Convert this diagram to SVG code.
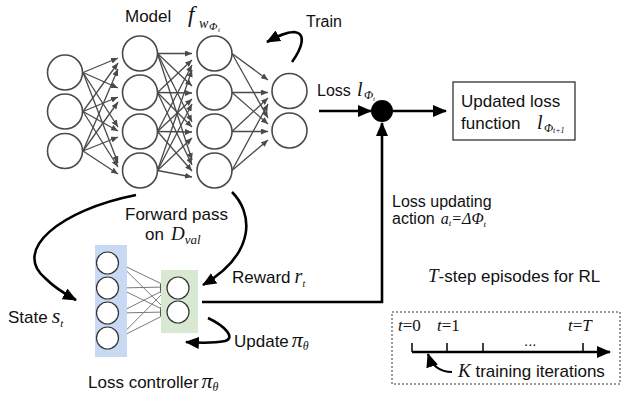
<svg xmlns="http://www.w3.org/2000/svg" width="621" height="396" viewBox="0 0 621 396">
<style>
.t{font-family:"Liberation Sans",Arial,sans-serif;font-size:17px;fill:#111}
.m{font-family:"Liberation Serif","Times New Roman",serif;font-style:italic;fill:#111}
.n{fill:#fff;stroke:#4a4a4a;stroke-width:1.6}
.cn{fill:#fff;stroke:#333;stroke-width:1.2}
.e{stroke:#4a4a4a;stroke-width:1.3;fill:none;marker-end:url(#ah)}
.ce{stroke:#7a7a7a;stroke-width:1;fill:none;marker-end:url(#ahc)}
.k{stroke:#000;stroke-width:2.6;fill:none;marker-end:url(#ak)}
</style>
<defs>
<marker id="ah" markerUnits="userSpaceOnUse" markerWidth="7" markerHeight="6" refX="7" refY="3" orient="auto"><path d="M0,0 L7,3 L0,6 z" fill="#4a4a4a"/></marker>
<marker id="ahc" markerUnits="userSpaceOnUse" markerWidth="6" markerHeight="6" refX="6" refY="3" orient="auto"><path d="M0,0 L6,3 L0,6 z" fill="#555"/></marker>
<marker id="ak" markerUnits="userSpaceOnUse" markerWidth="14" markerHeight="12" refX="13" refY="6" orient="auto"><path d="M0,0 L14,6 L0,12 z" fill="#000"/></marker>
</defs>

<g id="connectors">
<path class="e" d="M83 72.5 L118 58"/><path class="e" d="M83 72.5 L118 88"/><path class="e" d="M83 72.5 L118 127"/><path class="e" d="M83 72.5 L118 163"/>
<path class="e" d="M83 111.5 L118 63"/><path class="e" d="M83 111.5 L118 97"/><path class="e" d="M83 111.5 L118 131"/><path class="e" d="M83 111.5 L118 167"/>
<path class="e" d="M83 151 L118 69"/><path class="e" d="M83 151 L118 102"/><path class="e" d="M83 151 L118 137"/><path class="e" d="M83 151 L118 174"/>
<path class="e" d="M157.5 53.5 L192 53.5"/><path class="e" d="M157.5 53.5 L192 86"/><path class="e" d="M157.5 53.5 L192 122"/><path class="e" d="M157.5 53.5 L192 160"/>
<path class="e" d="M157.5 92.5 L192 60"/><path class="e" d="M157.5 92.5 L192 93"/><path class="e" d="M157.5 92.5 L192 127"/><path class="e" d="M157.5 92.5 L192 165"/>
<path class="e" d="M157.5 131.5 L192 65"/><path class="e" d="M157.5 131.5 L192 99"/><path class="e" d="M157.5 131.5 L192 132"/><path class="e" d="M157.5 131.5 L192 171"/>
<path class="e" d="M157.5 170.5 L192 70"/><path class="e" d="M157.5 170.5 L192 104"/><path class="e" d="M157.5 170.5 L192 138"/><path class="e" d="M157.5 170.5 L192 177"/>
<path class="e" d="M232 53.5 L268 80"/><path class="e" d="M232 53.5 L268 118"/>
<path class="e" d="M232 92.5 L268 92.5"/><path class="e" d="M232 92.5 L268 124"/>
<path class="e" d="M232 131.5 L268 98"/><path class="e" d="M232 131.5 L268 131.5"/>
<path class="e" d="M232 170.5 L268 104"/><path class="e" d="M232 170.5 L268 140"/>
<path class="ce" d="M118.5 263 L166 286"/><path class="ce" d="M118.5 263 L166 310"/>
<path class="ce" d="M118.5 288 L166 287"/><path class="ce" d="M118.5 288 L166 311"/>
<path class="ce" d="M118.5 313 L166 289"/><path class="ce" d="M118.5 313 L166 312"/>
<path class="ce" d="M118.5 338 L166 290"/><path class="ce" d="M118.5 338 L166 314"/>
<path class="k" d="M292 62 C302 48, 307 33, 294 32 C286 32, 278 36, 267 42"/>
<path class="k" d="M319 111 L371 111"/>
<path class="k" d="M393 111 L446 111"/>
<path class="k" d="M202 302 L382 302 L382 123"/>
<path class="k" d="M136 195 C60 210, 12 250, 45 278 C53 286, 63 293, 76 300"/>
<path class="k" d="M232 192 C252 212, 258 252, 203 285"/>
<path class="k" d="M208 318 C225 326, 236 338, 225 341 C215 343, 200 343, 186 342"/>
<path class="k" d="M412 352 L610 352"/>
<path class="k" d="M452 372 C440 372, 432 366, 428 354" style="stroke-width:2.2"/>
<g stroke="#000" stroke-width="1.5"><path d="M412 343 V352"/><path d="M447 343 V352"/><path d="M483 343 V352"/><path d="M583 343 V352"/></g>
</g>

<g id="model">
<circle class="n" cx="65" cy="72.5" r="17.5"/><circle class="n" cx="65" cy="111.5" r="17.5"/><circle class="n" cx="65" cy="151" r="17.5"/>
<circle class="n" cx="140" cy="53.5" r="17.5"/><circle class="n" cx="140" cy="92.5" r="17.5"/><circle class="n" cx="140" cy="131.5" r="17.5"/><circle class="n" cx="140" cy="170.5" r="17.5"/>
<circle class="n" cx="214.5" cy="53.5" r="17.5"/><circle class="n" cx="214.5" cy="92.5" r="17.5"/><circle class="n" cx="214.5" cy="131.5" r="17.5"/><circle class="n" cx="214.5" cy="170.5" r="17.5"/>
<circle class="n" cx="289.5" cy="91" r="17.5"/><circle class="n" cx="289.5" cy="130.5" r="17.5"/>
<text class="t" x="125" y="22">Model</text>
<text class="m" x="188" y="22" font-size="23">f</text>
<text class="m" x="199" y="28" font-size="14">w</text>
<text class="m" x="209" y="30" font-size="11">Φ</text>
<text class="m" x="218" y="32" font-size="7">t</text>
</g>

<g id="train"><text class="t" x="306" y="27" style="font-size:16px">Train</text></g>

<g id="loss">
<text class="t" x="317" y="96" style="font-size:16px">Loss</text>
<text class="m" x="357" y="96" font-size="20">l</text>
<text class="m" x="364" y="99" font-size="12">Φ</text>
<text class="m" x="373" y="101" font-size="7">t</text>
</g>

<g id="sum"><circle cx="382" cy="111" r="11" fill="#000"/></g>

<g id="updated">
<rect x="453" y="82" width="122" height="58" fill="#fff" stroke="#333" stroke-width="1.3"/>
<text class="t" x="461" y="107">Updated loss</text>
<text class="t" x="461" y="129">function</text>
<text class="m" x="537" y="129" font-size="20">l</text>
<text class="m" x="544" y="132" font-size="12">Φ</text>
<text class="m" x="553" y="133" font-size="8">t+1</text>
</g>

<g id="action">
<text class="t" x="392" y="207" style="font-size:16px">Loss updating</text>
<text class="t" x="392" y="224" style="font-size:16px">action<tspan class="m" font-size="16" dx="6">a</tspan><tspan class="m" font-size="9" dy="2">t</tspan><tspan class="m" font-size="16" dy="-2">=ΔΦ</tspan><tspan class="m" font-size="9" dy="3">t</tspan></text>
</g>

<g id="forward">
<text class="t" x="125" y="220">Forward pass</text>
<text class="t" x="145" y="240">on<tspan class="m" font-size="19" dx="7">D</tspan><tspan class="m" font-size="13" dy="4">val</tspan></text>
</g>

<g id="reward">
<text class="t" x="232" y="283">Reward<tspan class="m" font-size="20" dx="4">r</tspan><tspan class="m" font-size="10" dy="4">t</tspan></text>
</g>

<g id="state">
<text class="t" x="8" y="323">State<tspan class="m" font-size="22" dx="4">s</tspan><tspan class="m" font-size="11" dy="4">t</tspan></text>
</g>

<g id="controller">
<rect x="95" y="245" width="32" height="112" fill="#c7d9f3"/>
<rect x="161" y="270" width="37" height="63" fill="#d8e8d1"/>
<circle class="cn" cx="107.5" cy="263" r="11"/><circle class="cn" cx="107.5" cy="288" r="11"/><circle class="cn" cx="107.5" cy="313" r="11"/><circle class="cn" cx="107.5" cy="338" r="11"/>
<circle class="cn" cx="178" cy="288" r="11"/><circle class="cn" cx="178" cy="312" r="11"/>
<text class="t" x="88" y="388">Loss controller<tspan class="m" font-size="22" dx="3">π</tspan><tspan class="m" font-size="12" dy="3">θ</tspan></text>
</g>

<g id="update">
<text class="t" x="234" y="347">Update<tspan class="m" font-size="22" dx="3">π</tspan><tspan class="m" font-size="12" dy="3">θ</tspan></text>
</g>

<g id="episodes">
<text class="t" x="428" y="282"><tspan class="m" font-size="19">T</tspan>-step episodes for RL</text>
<rect x="392" y="312" width="228" height="72" fill="none" stroke="#333" stroke-width="1" stroke-dasharray="2 2"/>
<text class="m" x="398" y="331" font-size="17">t<tspan font-style="normal">=0</tspan></text>
<text class="m" x="437" y="331" font-size="17">t<tspan font-style="normal">=1</tspan></text>
<text class="m" x="568" y="331" font-size="17">t<tspan font-style="normal">=</tspan>T</text>
<text class="t" x="524" y="346" style="font-size:15px">...</text>
<text class="t" x="458" y="377"><tspan class="m" font-size="19">K</tspan> training iterations</text>
</g>
</svg>
